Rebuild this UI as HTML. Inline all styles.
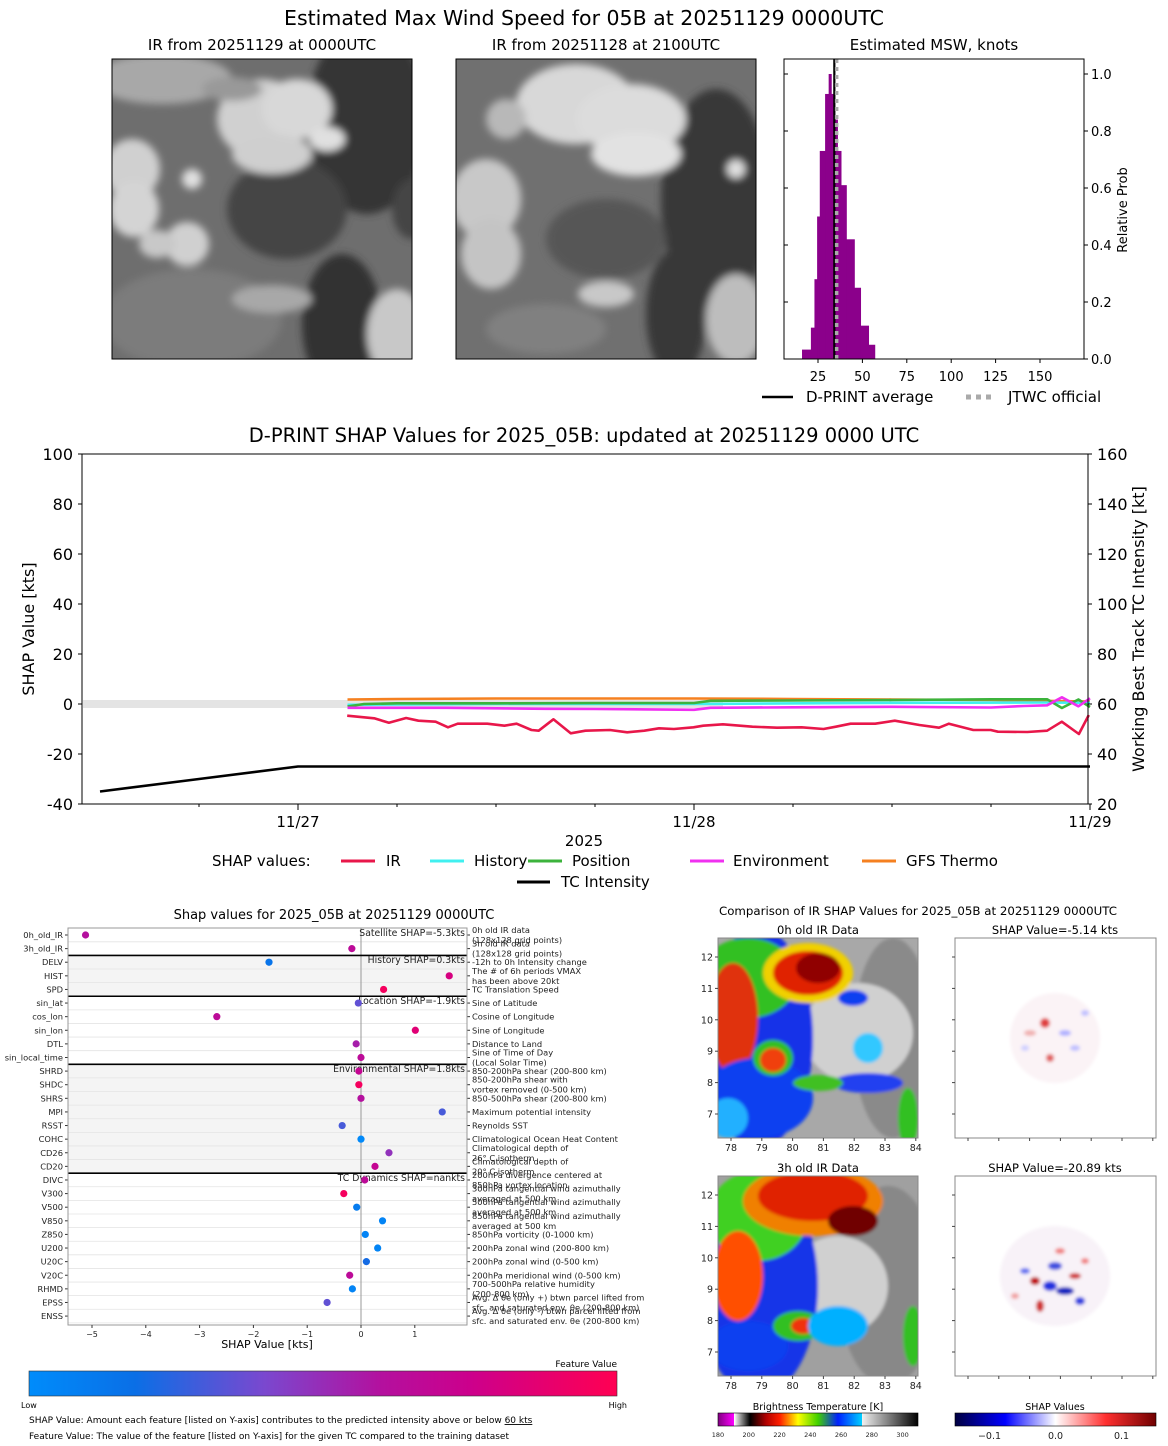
<!DOCTYPE html>
<html><head><meta charset="utf-8"><style>
html,body{margin:0;padding:0;background:#fff}
svg{display:block;font-family:"DejaVu Sans","Liberation Sans",sans-serif}
</style></head><body>
<svg id="s" width="1168" height="1446" viewBox="0 0 1168 1446" xmlns="http://www.w3.org/2000/svg">
<defs>
<filter id="bl" x="-20%" y="-20%" width="140%" height="140%"><feGaussianBlur stdDeviation="4"/></filter>
<filter id="bl2" x="-20%" y="-20%" width="140%" height="140%"><feGaussianBlur stdDeviation="1.5"/></filter>
<clipPath id="c1"><rect x="112" y="59" width="300" height="300"/></clipPath>
<clipPath id="c2"><rect x="456" y="59" width="300" height="300"/></clipPath>
<clipPath id="c3"><rect x="718" y="938" width="200" height="200"/></clipPath>
<clipPath id="c4"><rect x="718" y="1176" width="200" height="200"/></clipPath>
<clipPath id="c5"><rect x="955" y="938" width="201" height="200"/></clipPath>
<clipPath id="c6"><rect x="955" y="1176" width="201" height="200"/></clipPath>
<linearGradient id="fv" x1="0" x2="1" y1="0" y2="0">
<stop offset="0" stop-color="#008cfb"/><stop offset="0.18" stop-color="#0a6fe6"/><stop offset="0.4" stop-color="#7a48cf"/><stop offset="0.6" stop-color="#b4109e"/><stop offset="0.75" stop-color="#cc008c"/><stop offset="1" stop-color="#ff0052"/></linearGradient>
<linearGradient id="bt" x1="0" x2="1" y1="0" y2="0">
<stop offset="0" stop-color="#800080"/><stop offset="0.08" stop-color="#ff00ff"/><stop offset="0.081" stop-color="#ffffff"/><stop offset="0.16" stop-color="#000000"/><stop offset="0.24" stop-color="#b00000"/><stop offset="0.31" stop-color="#ff2000"/><stop offset="0.4" stop-color="#ffff00"/><stop offset="0.5" stop-color="#40d000"/><stop offset="0.6" stop-color="#0020ff"/><stop offset="0.72" stop-color="#00d0ff"/><stop offset="0.721" stop-color="#f0f0f0"/><stop offset="1" stop-color="#000000"/></linearGradient>
<linearGradient id="sh" x1="0" x2="1" y1="0" y2="0">
<stop offset="0" stop-color="#000040"/><stop offset="0.25" stop-color="#0000ff"/><stop offset="0.5" stop-color="#ffffff"/><stop offset="0.75" stop-color="#ff3030"/><stop offset="1" stop-color="#700000"/></linearGradient>
</defs>

<text x="584" y="25" font-size="20.5" text-anchor="middle">Estimated Max Wind Speed for 05B at 20251129 0000UTC</text>
<text x="262" y="50" font-size="15" text-anchor="middle">IR from 20251129 at 0000UTC</text>
<text x="606" y="50" font-size="15" text-anchor="middle">IR from 20251128 at 2100UTC</text>
<text x="934" y="50" font-size="15" text-anchor="middle">Estimated MSW, knots</text>
<g id="sat1" clip-path="url(#c1)"></g>
<rect x="112" y="59" width="300" height="300" fill="none" stroke="#000"/>
<g id="sat2" clip-path="url(#c2)"></g>
<rect x="456" y="59" width="300" height="300" fill="none" stroke="#000"/>

<g id="hist"></g>
<rect x="784" y="59" width="300" height="300" fill="none" stroke="#000"/>
<text transform="translate(1127,210) rotate(-90)" font-size="13" text-anchor="middle">Relative Prob</text>
<line x1="762" y1="397" x2="793" y2="397" stroke="#000" stroke-width="2.5"/>
<text x="806" y="402" font-size="15">D-PRINT average</text>
<line x1="966" y1="397" x2="996" y2="397" stroke="#aaa" stroke-width="5" stroke-dasharray="5,5"/>
<text x="1008" y="402" font-size="15">JTWC official</text>

<text x="584" y="442" font-size="19.5" text-anchor="middle">D-PRINT SHAP Values for 2025_05B: updated at 20251129 0000 UTC</text>
<g id="main"></g>
<rect x="82" y="454" width="1006" height="350" fill="none" stroke="#000"/>
<text transform="translate(34,629) rotate(-90)" font-size="16" text-anchor="middle">SHAP Value [kts]</text>
<text transform="translate(1144,629) rotate(-90)" font-size="16" text-anchor="middle">Working Best Track TC Intensity [kt]</text>
<text x="584" y="846" font-size="15" text-anchor="middle">2025</text>
<g font-size="15">
<text x="212" y="866">SHAP values:</text>
<line x1="341" y1="861" x2="375" y2="861" stroke="#e8174a" stroke-width="3"/><text x="386" y="866">IR</text>
<line x1="430" y1="861" x2="464" y2="861" stroke="#40f0f0" stroke-width="3"/><text x="474" y="866">History</text>
<line x1="528" y1="861" x2="562" y2="861" stroke="#3cb33c" stroke-width="3"/><text x="572" y="866">Position</text>
<line x1="690" y1="861" x2="724" y2="861" stroke="#f030f0" stroke-width="3"/><text x="733" y="866">Environment</text>
<line x1="862" y1="861" x2="896" y2="861" stroke="#f58020" stroke-width="3"/><text x="906" y="866">GFS Thermo</text>
<line x1="517" y1="882" x2="550" y2="882" stroke="#000" stroke-width="3"/><text x="561" y="887">TC Intensity</text>
</g>

<text x="334" y="919" font-size="13" text-anchor="middle">Shap values for 2025_05B at 20251129 0000UTC</text>
<g id="bee"></g>
<text x="267" y="1348" font-size="11" text-anchor="middle">SHAP Value [kts]</text>
<text x="617" y="1367" font-size="9" text-anchor="end">Feature Value</text>
<rect x="29" y="1371" width="588" height="25" fill="url(#fv)" stroke="#333" stroke-width="0.6"/>
<text x="21" y="1408" font-size="8">Low</text>
<text x="627" y="1408" font-size="8" text-anchor="end">High</text>
<text x="29" y="1423" font-size="9">SHAP Value: Amount each feature [listed on Y-axis] contributes to the predicted intensity above or below <tspan text-decoration="underline">60 kts</tspan></text>
<text x="29" y="1439" font-size="9">Feature Value: The value of the feature [listed on Y-axis] for the given TC compared to the training dataset</text>

<text x="918" y="915" font-size="11.8" text-anchor="middle">Comparison of IR SHAP Values for 2025_05B at 20251129 0000UTC</text>
<text x="818" y="934" font-size="11.5" text-anchor="middle">0h old IR Data</text>
<text x="1055" y="934" font-size="11.5" text-anchor="middle">SHAP Value=-5.14 kts</text>
<text x="818" y="1172" font-size="11.5" text-anchor="middle">3h old IR Data</text>
<text x="1055" y="1172" font-size="11.5" text-anchor="middle">SHAP Value=-20.89 kts</text>
<g id="ir0" clip-path="url(#c3)"></g>
<g id="ir3" clip-path="url(#c4)"></g>
<g id="sh0" clip-path="url(#c5)"></g>
<g id="sh3" clip-path="url(#c6)"></g>
<g id="maps"></g>
<text x="818" y="1410" font-size="9.5" text-anchor="middle">Brightness Temperature [K]</text>
<rect x="718" y="1413" width="200" height="13" fill="url(#bt)" stroke="#000" stroke-width="0.6"/>
<text x="1055" y="1410" font-size="9.5" text-anchor="middle">SHAP Values</text>
<rect x="955" y="1413" width="201" height="13" fill="url(#sh)" stroke="#000" stroke-width="0.6"/>
<g id="cbt"></g>
</svg>
<script>
// ---------- data ----------
var histLo=[16,21,23,24.5,26,29,31,32.5,34,36,38,41,45.5,49,53.5];
var histHi=[21,23,24.5,26,29,31,32.5,34,36,38,41,45.5,49,53.5,57];
var histProb=[0.033,0.11,0.28,0.5,0.73,0.93,1.0,0.93,0.84,0.73,0.61,0.42,0.25,0.117,0.05];
var dprintAvg=34.2, jtwcOfficial=35.5;
var histXTicks=[25,50,75,100,125,150];
var histYTicks=[0,0.2,0.4,0.6,0.8,1.0];

var irT=[2.98,4.62,5.51,6.55,7.30,8.34,9.09,9.68,11.47,12.51,13.25,14.15,14.59,15.48,16.53,17.42,18.91,19.95,20.99,21.88,22.78,23.97,24.56,25.75,27.54,29.03,30.52,31.85,32.6,33.49,34.98,36.17,37.66,38.85,39.45,40.93,41.98,42.42,44.2,45.4,46.29,47.33,47.93];
var irV=[-4.67,-5.73,-7.47,-5.6,-6.67,-7.07,-9.33,-7.87,-7.87,-8.67,-7.87,-10.4,-10.67,-6.13,-11.73,-10.67,-10.4,-11.33,-10.67,-9.73,-10,-9.33,-8.67,-8.13,-9.07,-9.47,-9.33,-10,-9.07,-7.87,-7.87,-6.67,-8.4,-9.47,-7.87,-10.4,-10.4,-11.07,-11.2,-10.67,-7.07,-12,-4.4];
var histT=[3,12,24,36,45,48];
var histV=[-0.3,0,0,0.5,0.6,0.5];
var posT=[3,4,6,12,18,24,25,30,36,42,45.4,46.3,47.3,48];
var posV=[-1.0,0,0.3,0.3,0.4,0.4,1.3,1.4,1.6,1.9,1.9,-1.6,1.8,-1.2];
var envT=[3,9,15,18,24,25,30,36,42,44,45.4,46.3,47.3,48];
var envV=[-1.5,-1.5,-1.9,-2.0,-2.3,-1.5,-1.3,-1.1,-1.4,-0.8,-0.5,2.7,-0.9,2.3];
var gfsT=[3,6,12,18,24,30,36,42,46,48];
var gfsV=[1.8,2.0,2.2,2.2,2.2,2.0,1.8,1.6,1.2,1.0];
var tcT=[-12,-6,0,6,12,18,24,30,36,42,48];
var tcKt=[25,30,35,35,35,35,35,35,35,35,35];
var leftTicks=[-40,-20,0,20,40,60,80,100];
var rightTicks=[20,40,60,80,100,120,140,160];
var dateLabels=['11/27','11/28','11/29'];

var feats=['0h_old_IR','3h_old_IR','DELV','HIST','SPD','sin_lat','cos_lon','sin_lon','DTL','sin_local_time','SHRD','SHDC','SHRS','MPI','RSST','COHC','CD26','CD20','DIVC','V300','V500','V850','Z850','U200','U20C','V20C','RHMD','EPSS','ENSS'];
var shapVals=[-5.12,-0.17,-1.71,1.64,0.42,-0.05,-2.68,1.01,-0.09,0,-0.04,-0.04,0,1.51,-0.35,0,0.52,0.26,0.07,-0.32,-0.08,0.40,0.08,0.31,0.1,-0.21,-0.16,-0.63,null];
var featVals=[0.6,0.65,0.15,0.8,0.95,0.35,0.65,0.85,0.55,0.65,0.7,0.95,0.6,0.3,0.3,0.02,0.48,0.7,0.65,0.95,0.1,0.05,0.05,0.05,0.2,0.65,0.05,0.35,null];
var descs=[["0h old IR data","(128x128 grid points)"],["3h old IR data","(128x128 grid points)"],["-12h to 0h Intensity change"],["The # of 6h periods VMAX","has been above 20kt"],["TC Translation Speed"],["Sine of Latitude"],["Cosine of Longitude"],["Sine of Longitude"],["Distance to Land"],["Sine of Time of Day","(Local Solar Time)"],["850-200hPa shear (200-800 km)"],["850-200hPa shear with","vortex removed (0-500 km)"],["850-500hPa shear (200-800 km)"],["Maximum potential intensity"],["Reynolds SST"],["Climatological Ocean Heat Content"],["Climatological depth of","26° C isotherm"],["Climatological depth of","20° C isotherm"],["200hPa divergence centered at","850hPa vortex location"],["300hPa tangential wind azimuthally","averaged at 500 km"],["500hPa tangential wind azimuthally","averaged at 500 km"],["850hPa tangential wind azimuthally","averaged at 500 km"],["850hPa vorticity (0-1000 km)"],["200hPa zonal wind (200-800 km)"],["200hPa zonal wind (0-500 km)"],["200hPa meridional wind (0-500 km)"],["700-500hPa relative humidity","(200-800 km)"],["Avg. Δ θe (only +) btwn parcel lifted from","sfc. and saturated env. θe (200-800 km)"],["Avg. Δ θe (only -) btwn parcel lifted from","sfc. and saturated env. θe (200-800 km)"]];
var groupNames=["Satellite SHAP=-5.3kts","History SHAP=0.3kts","Location SHAP=-1.9kts","Environmental SHAP=1.8kts","TC Dynamics SHAP=nankts"];
var groupStart=[0,2,5,10,18];
var groupEnd=[1,4,9,17,28];
var beeTicks=[-5,-4,-3,-2,-1,0,1];
var lonTicks=[78,79,80,81,82,83,84];
var latTicks=[7,8,9,10,11,12];
var btTicks=[180,200,220,240,260,280,300];
var shTicks=[-0.1,0.0,0.1];

// ---------- helpers ----------
var NS='http://www.w3.org/2000/svg';
function mk(parent,tag,a){var e=document.createElementNS(NS,tag);for(var k in a)e.setAttribute(k,a[k]);parent.appendChild(e);return e;}
function $(id){return document.getElementById(id);}

// ---------- histogram ----------
function xh(v){return 773.6+v*1.776;}
function yh(p){return 359-p*285;}
var H=$('hist');
for(var i=0;i<histProb.length;i++){
  var r=mk(H,'rect',{x:xh(histLo[i]),y:yh(histProb[i]),width:xh(histHi[i])-xh(histLo[i])+0.4,height:359-yh(histProb[i]),fill:'#8b008b'});
  
  
}
var l=mk(H,'line',{x1:xh(dprintAvg),x2:xh(dprintAvg),y1:59,y2:359,stroke:'#000','stroke-width':2.2});


l=mk(H,'line',{x1:xh(jtwcOfficial),x2:xh(jtwcOfficial),y1:59,y2:359,stroke:'#aaa','stroke-width':3.5,'stroke-dasharray':'4,4'});


histXTicks.forEach(function(v){
  var t=mk(H,'line',{x1:xh(v),x2:xh(v),y1:359,y2:363,stroke:'#000'});
  
  
  var tx=mk(H,'text',{x:xh(v),y:381,'font-size':13,'text-anchor':'middle'});tx.textContent=v;
  
  
});
histYTicks.forEach(function(v){
  var t=mk(H,'line',{x1:1084,x2:1088,y1:yh(v),y2:yh(v),stroke:'#000'});
  
  
  var t2=mk(H,'line',{x1:784,x2:788,y1:yh(v),y2:yh(v),stroke:'#000'});
  
  
  var tx=mk(H,'text',{x:1091,y:yh(v)+5,'font-size':13});tx.textContent=v.toFixed(1);
  
  
});

// ---------- timeseries ----------
function xm(h){return 298+h*16.5;}
function ys(v){return 704-v*2.5;}
function yk(k){return 804-(k-20)*2.5;}
var M=$('main');
var band=mk(M,'rect',{x:83,y:700,width:640,height:8,fill:'#e4e4e4'});


function series(T,V,color,name,yf,w){
  var d='';for(var i=0;i<T.length;i++)d+=(i?'L':'M')+xm(T[i]).toFixed(1)+','+yf(V[i]).toFixed(1);
  var p=mk(M,'path',{d:d,fill:'none',stroke:color,'stroke-width':w||2.6,'stroke-linejoin':'round'});
  
  
}
series(tcT,tcKt,'#000','tc-intensity-line',yk,2.6);
series(gfsT,gfsV,'#f58020','gfs-thermo-line',ys);
series(histT,histV,'#40f0f0','history-line',ys);
series(posT,posV,'#3cb33c','position-line',ys);
series(envT,envV,'#f030f0','environment-line',ys);
series(irT,irV,'#e8174a','ir-line',ys);
leftTicks.forEach(function(v){
  var t=mk(M,'line',{x1:78,x2:82,y1:ys(v),y2:ys(v),stroke:'#000'});
  
  
  var tx=mk(M,'text',{x:73,y:ys(v)+6,'font-size':16,'text-anchor':'end'});tx.textContent=v;
  
  
});
rightTicks.forEach(function(v){
  var t=mk(M,'line',{x1:1088,x2:1092,y1:yk(v),y2:yk(v),stroke:'#000'});
  
  
  var tx=mk(M,'text',{x:1097,y:yk(v)+6,'font-size':16});tx.textContent=v;
  
  
});
for(var h=-6;h<=48;h+=6){
  var maj=(h%24===0);
  var t=mk(M,'line',{x1:xm(h),x2:xm(h),y1:804,y2:maj?810:807,stroke:'#000'});
  
  
}
dateLabels.forEach(function(s,i){
  var tx=mk(M,'text',{x:xm(i*24),y:827,'font-size':15,'text-anchor':'middle'});tx.textContent=s;
  
  
});

// ---------- beeswarm ----------
function xb(v){return 361+v*53.8;}
function yr(i){return 935+i*13.61;}
function fcol(f){
  var st=[[0,[0,140,251]],[0.18,[10,111,230]],[0.4,[122,72,207]],[0.6,[180,16,158]],[0.75,[204,0,140]],[1,[255,0,82]]];
  for(var i=1;i<st.length;i++){if(f<=st[i][0]){var a=st[i-1],b=st[i],t=(f-a[0])/(b[0]-a[0]);
    return 'rgb('+[0,1,2].map(function(k){return Math.round(a[1][k]+(b[1][k]-a[1][k])*t)}).join(',')+')';}}
  return 'rgb(255,0,82)';
}
var B=$('bee');
[1,3].forEach(function(g){
  var r=mk(B,'rect',{x:68,y:yr(groupStart[g])-6.8,width:399,height:yr(groupEnd[g])-yr(groupStart[g])+13.6,fill:'#f4f4f4'});
  
  
});
feats.forEach(function(f,i){
  var g=mk(B,'line',{x1:68,x2:467,y1:yr(i)+6.8,y2:yr(i)+6.8,stroke:'#e4e4e4','stroke-width':0.8});
  
  
  var tk=mk(B,'line',{x1:65,x2:68,y1:yr(i),y2:yr(i),stroke:'#333'});
  
  
  var tx=mk(B,'text',{x:63,y:yr(i)+3,'font-size':8.3,'text-anchor':'end',fill:'#222'});tx.textContent=f;
  
  
  var tk2=mk(B,'line',{x1:467,x2:470,y1:yr(i),y2:yr(i),stroke:'#333'});
  
  
  var d=descs[i];
  d.forEach(function(s,j){
    var yy=d.length===1?yr(i)+3:yr(i)-2+j*10;
    var dt=mk(B,'text',{x:472,y:yy,'font-size':8.3,fill:'#222'});dt.textContent=s;
    
    
  });
});
var zl=mk(B,'line',{x1:xb(0),x2:xb(0),y1:928,y2:1325,stroke:'#999','stroke-width':1});


groupStart.forEach(function(s,g){
  if(g>0){var sl=mk(B,'line',{x1:68,x2:467,y1:yr(s)-6.8,y2:yr(s)-6.8,stroke:'#000','stroke-width':1.6});
  
  }
  var gt=mk(B,'text',{x:465,y:yr(s)+1,'font-size':9.3,'text-anchor':'end',fill:'#222'});gt.textContent=groupNames[g];
  
  
});
shapVals.forEach(function(v,i){
  if(v===null)return;
  var c=mk(B,'circle',{cx:xb(v),cy:yr(i),r:3.6,fill:fcol(featVals[i])});
  
  
});
var fr=mk(B,'rect',{x:68,y:928,width:399,height:397,fill:'none',stroke:'#999'});


beeTicks.forEach(function(v){
  var t=mk(B,'line',{x1:xb(v),x2:xb(v),y1:1325,y2:1328,stroke:'#333'});
  
  
  var tx=mk(B,'text',{x:xb(v),y:1337,'font-size':8,'text-anchor':'middle',fill:'#222'});tx.textContent=(v<0?'\u2212'+(-v):v);
  
  
});

// ---------- satellite imagery (decorative) ----------
function blobs(gid,x0,y0,w,h,base,list,filt){
  var G=$(gid);
  mk(G,'rect',{x:x0,y:y0,width:w,height:h,fill:base});
  var g=mk(G,'g',{filter:'url(#'+filt+')'});
  list.forEach(function(b){mk(g,'ellipse',{cx:x0+b[0],cy:y0+b[1],rx:b[2],ry:b[3],fill:b[4]});});
}
blobs('sat1',112,59,300,300,'#6e6e6e',[[50,20,70,25,'#a8a8a8'],[255,60,60,95,'#353535'],[175,150,60,50,'#444'],[80,260,90,50,'#7c7c7c'],[230,265,40,70,'#303030'],[150,60,45,40,'#d0d0d0'],[185,50,35,30,'#d8d8d8'],[160,95,40,20,'#cfcfcf'],[20,110,28,30,'#d0d0d0'],[22,150,25,28,'#d4d4d4'],[75,185,22,22,'#d0d0d0'],[45,185,18,14,'#c8c8c8'],[285,275,30,45,'#c8c8c8'],[160,240,40,14,'#a8a8a8'],[215,80,18,12,'#e0e0e0'],[80,120,10,10,'#e0e0e0'],[120,30,30,12,'#999'],[300,150,20,30,'#444']],'bl');
blobs('sat2',456,59,300,300,'#707070',[[260,140,55,110,'#383838'],[150,180,60,40,'#575757'],[220,255,30,65,'#383838'],[120,45,60,40,'#d8d8d8'],[175,60,55,35,'#dcdcdc'],[180,95,45,22,'#e2e2e2'],[30,140,35,40,'#c8c8c8'],[35,195,30,35,'#c4c4c4'],[50,60,20,20,'#b8b8b8'],[280,260,30,45,'#bdbdbd'],[150,235,28,13,'#c8c8c8'],[280,110,9,9,'#e0e0e0'],[90,270,60,25,'#808080']],'bl');
blobs('ir0',718,938,200,200,'#a8a8a8',[[175,100,40,100,'#8a8a8a'],[140,95,55,50,'#d0d0d0'],[40,100,55,110,'#1530e8'],[30,40,50,40,'#30c020'],[15,80,25,55,'#e03010'],[40,160,55,40,'#1040f0'],[90,35,45,30,'#f0d000'],[90,35,35,22,'#e02000'],[100,30,22,15,'#900000'],[55,120,20,18,'#30c020'],[55,122,13,12,'#f04010'],[150,145,35,10,'#2040f0'],[100,145,25,8,'#40c020'],[150,110,15,15,'#30c8ff'],[10,180,20,20,'#20b0ff'],[135,60,15,8,'#1040f0'],[190,180,10,30,'#30c020']],'bl2');
blobs('ir3',718,1176,200,200,'#a0a0a0',[[170,110,50,100,'#888'],[120,110,50,50,'#d0d0d0'],[40,110,60,110,'#1535e8'],[40,40,50,45,'#40d020'],[95,25,70,35,'#f08000'],[95,20,55,25,'#e02000'],[135,45,25,15,'#700000'],[20,100,25,45,'#ff5000'],[30,170,40,25,'#1040f0'],[80,150,25,15,'#30c020'],[85,150,12,8,'#f03010'],[120,150,30,20,'#00b0ff'],[195,160,10,30,'#30c020']],'bl2');
function noise(gid,x0,y0,spots,filt){
  var G=$(gid);mk(G,'rect',{x:x0,y:y0,width:201,height:200,fill:'#fff'});
  var g=mk(G,'g',{filter:'url(#'+filt+')'});
  spots.forEach(function(s){mk(g,'ellipse',{cx:x0+s[0],cy:y0+s[1],rx:s[2],ry:s[3],fill:s[4]});});
}
noise('sh0',955,938,[[100,100,45,45,'#fbf3f6'],[90,85,5,5,'#e04040'],[95,120,4,4,'#e06060'],[110,95,6,3,'#b0b0ff'],[75,95,6,3,'#f0b0b0'],[120,110,5,3,'#c0c0ff'],[130,75,4,3,'#c0c0ff'],[70,110,4,3,'#d0d0ff']],'bl2');
noise('sh3',955,1176,[[100,100,55,50,'#f8f2f8'],[95,110,7,5,'#2030e0'],[110,115,9,4,'#1020c0'],[80,105,5,4,'#c00000'],[120,100,6,3,'#d03030'],[100,90,7,4,'#4050e0'],[85,130,4,6,'#d03030'],[125,125,5,4,'#3040e0'],[70,95,5,3,'#6070f0'],[130,85,4,3,'#f08080'],[105,75,5,3,'#f08080'],[60,120,4,3,'#f0a0a0']],'bl2');

// ---------- map axes ----------
var MP=$('maps');
function xl(v){return 731+(v-78)*30.8;}
function mapAxes(y0){
  [718,955].forEach(function(x0,k){
    var f=mk(MP,'rect',{x:x0,y:y0,width:k?201:200,height:200,fill:'none',stroke:'#888'});
    
    
    lonTicks.forEach(function(v){
      var xx=xl(v)+(k?237:0);
      var t=mk(MP,'line',{x1:xx,x2:xx,y1:y0+200,y2:y0+203,stroke:'#444'});
      
      
      if(!k){var tx=mk(MP,'text',{x:xx,y:y0+213,'font-size':9.5,'text-anchor':'middle',fill:'#222'});tx.textContent=v;
      
      }
    });
    latTicks.forEach(function(v){
      var yy=y0+19+(12-v)*31.4;
      var t=mk(MP,'line',{x1:x0-3,x2:x0,y1:yy,y2:yy,stroke:'#444'});
      
      
      if(!k){var tx=mk(MP,'text',{x:x0-5,y:yy+3.5,'font-size':9.5,'text-anchor':'end',fill:'#222'});tx.textContent=v;
      
      }
    });
  });
}
mapAxes(938);mapAxes(1176);
var CB=$('cbt');
btTicks.forEach(function(v){
  var xx=718+(v-180)/130*200;
  var tx=mk(CB,'text',{x:xx,y:1437,'font-size':6.5,'text-anchor':'middle',fill:'#222'});tx.textContent=v;
  
  
});
shTicks.forEach(function(v){
  var xx=1055.5+v*660;
  var tx=mk(CB,'text',{x:xx,y:1439,'font-size':9.5,'text-anchor':'middle',fill:'#222'});tx.textContent=(v<0?'\u2212'+(-v).toFixed(1):v.toFixed(1));
  
  
});
</script>
</body></html>
